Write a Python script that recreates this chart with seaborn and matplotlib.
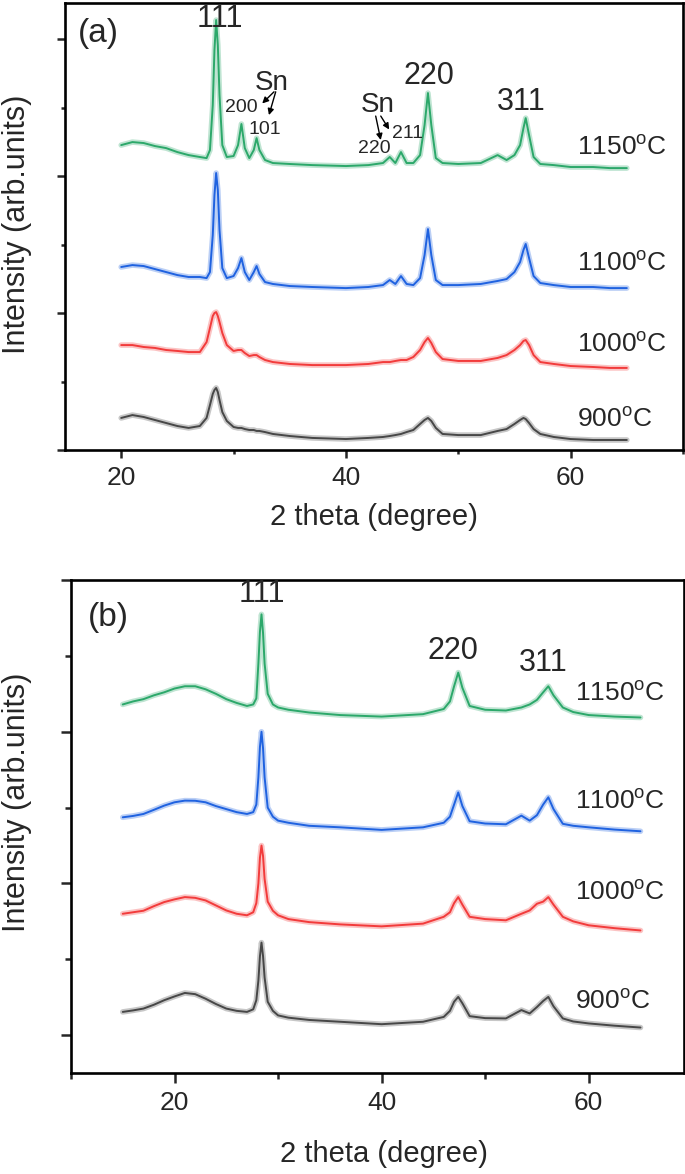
"""XRD patterns of the annealed samples, two stacked panels."""

import matplotlib

matplotlib.use("Agg")
import matplotlib.pyplot as plt
import pandas as pd
import seaborn as sns
from matplotlib.ticker import MultipleLocator

# ---------------- panel (a) ----------------
tth_a = [20, 21, 22, 23, 24, 25, 26, 27, 27.6, 27.9, 28.15, 28.3, 28.45, 28.6, 28.75,
         29.0, 29.4, 30.0, 30.4, 30.7, 31.0, 31.4, 31.8, 32.05, 32.3, 32.8, 33.5, 35,
         37, 40, 42, 43.3, 43.9, 44.4, 44.9, 45.4, 46.0, 46.6, 47.0, 47.3, 47.6, 48.0,
         48.6, 50, 52, 53.5, 54.3, 55.0, 55.5, 55.8, 56.0, 56.3, 56.7, 57.3, 58.5, 60,
         62, 63.5, 65]

a_1150 = [2.226, 2.248, 2.241, 2.219, 2.204, 2.175, 2.153, 2.139, 2.131, 2.190, 2.518,
          2.920, 3.139, 2.956, 2.591, 2.226, 2.139, 2.146, 2.226, 2.380, 2.204, 2.131,
          2.190, 2.277, 2.190, 2.117, 2.095, 2.088, 2.080, 2.073, 2.080, 2.095, 2.139,
          2.095, 2.175, 2.095, 2.095, 2.153, 2.372, 2.606, 2.372, 2.131, 2.095, 2.088,
          2.095, 2.153, 2.117, 2.153, 2.226, 2.350, 2.423, 2.299, 2.139, 2.088, 2.080,
          2.066, 2.066, 2.058, 2.058]
a_1100 = [1.336, 1.350, 1.343, 1.321, 1.299, 1.277, 1.263, 1.263, 1.255, 1.299, 1.569,
          1.861, 2.022, 1.898, 1.606, 1.328, 1.255, 1.270, 1.328, 1.401, 1.299, 1.241,
          1.299, 1.343, 1.285, 1.226, 1.212, 1.197, 1.190, 1.182, 1.190, 1.204, 1.241,
          1.212, 1.270, 1.212, 1.204, 1.255, 1.423, 1.613, 1.423, 1.241, 1.204, 1.204,
          1.212, 1.234, 1.248, 1.299, 1.372, 1.460, 1.504, 1.401, 1.270, 1.219, 1.204,
          1.190, 1.190, 1.182, 1.182]
a_1000 = [0.766, 0.766, 0.752, 0.745, 0.730, 0.723, 0.715, 0.715, 0.788, 0.891, 0.978,
          1.000, 1.007, 0.978, 0.934, 0.854, 0.766, 0.723, 0.730, 0.730, 0.708, 0.686,
          0.693, 0.693, 0.679, 0.657, 0.642, 0.628, 0.620, 0.620, 0.628, 0.642, 0.642,
          0.650, 0.657, 0.657, 0.679, 0.730, 0.788, 0.818, 0.781, 0.715, 0.664, 0.650,
          0.650, 0.672, 0.693, 0.730, 0.766, 0.796, 0.803, 0.766, 0.693, 0.642, 0.628,
          0.613, 0.606, 0.599, 0.599]
a_900 = [0.234, 0.255, 0.241, 0.219, 0.197, 0.175, 0.161, 0.175, 0.234, 0.328, 0.409,
         0.438, 0.453, 0.423, 0.365, 0.277, 0.212, 0.168, 0.161, 0.161, 0.153, 0.146,
         0.146, 0.139, 0.139, 0.131, 0.117, 0.102, 0.088, 0.080, 0.088, 0.095, 0.102,
         0.109, 0.117, 0.131, 0.146, 0.190, 0.219, 0.234, 0.212, 0.161, 0.117, 0.109,
         0.109, 0.139, 0.153, 0.190, 0.219, 0.234, 0.226, 0.197, 0.153, 0.117, 0.095,
         0.080, 0.073, 0.073, 0.073]

# ---------------- panel (b) ----------------
tth_b = [15, 16, 17, 18, 19, 20, 21, 22, 23, 24, 25, 26, 27, 27.6, 27.9, 28.1, 28.25,
         28.4, 28.55, 28.7, 29.0, 29.5, 30, 31, 33, 36, 40, 44, 46, 46.6, 47.0, 47.4,
         47.8, 48.5, 50, 52, 53.5, 54.3, 55.0, 55.6, 56.1, 56.6, 57.5, 58.5, 60, 62.5, 65]

b_1150 = [2.18, 2.20, 2.215, 2.24, 2.26, 2.285, 2.30, 2.30, 2.28, 2.25, 2.215, 2.19,
          2.17, 2.18, 2.22, 2.45, 2.66, 2.774, 2.65, 2.45, 2.25, 2.18, 2.16, 2.145,
          2.127, 2.11, 2.10, 2.116, 2.15, 2.20, 2.30, 2.39, 2.29, 2.17, 2.145, 2.14,
          2.16, 2.18, 2.21, 2.26, 2.30, 2.24, 2.16, 2.13, 2.11, 2.10, 2.094]
b_1100 = [1.436, 1.445, 1.458, 1.485, 1.513, 1.535, 1.546, 1.545, 1.535, 1.51, 1.49,
          1.47, 1.458, 1.47, 1.52, 1.70, 1.90, 2.0, 1.89, 1.70, 1.50, 1.44, 1.414, 1.40,
          1.38, 1.37, 1.353, 1.37, 1.40, 1.44, 1.52, 1.60, 1.51, 1.41, 1.395, 1.39,
          1.447, 1.414, 1.45, 1.52, 1.568, 1.49, 1.393, 1.38, 1.37, 1.355, 1.344]
b_1000 = [0.80, 0.81, 0.82, 0.85, 0.877, 0.895, 0.91, 0.905, 0.888, 0.855, 0.822, 0.80,
          0.79, 0.81, 0.87, 1.0, 1.17, 1.25, 1.18, 1.03, 0.88, 0.82, 0.79, 0.765, 0.745,
          0.73, 0.717, 0.735, 0.78, 0.81, 0.87, 0.91, 0.86, 0.78, 0.765, 0.757, 0.80,
          0.822, 0.866, 0.88, 0.91, 0.86, 0.78, 0.75, 0.724, 0.705, 0.69]
b_900 = [0.153, 0.163, 0.175, 0.20, 0.23, 0.255, 0.278, 0.27, 0.24, 0.205, 0.175, 0.16,
         0.153, 0.17, 0.23, 0.36, 0.52, 0.61, 0.52, 0.38, 0.22, 0.16, 0.13, 0.115, 0.10,
         0.088, 0.072, 0.088, 0.12, 0.16, 0.22, 0.252, 0.21, 0.125, 0.112, 0.11, 0.165,
         0.143, 0.185, 0.225, 0.252, 0.19, 0.11, 0.09, 0.077, 0.062, 0.05]

temps = ["900", "1000", "1100", "1150"]
colors = {"900": "#474747", "1000": "#f23b3b", "1100": "#1f62e0", "1150": "#2ca86a"}


def to_long(tth, series):
    """Stack the per-temperature arrays into one long table."""
    frames = [pd.DataFrame({"two_theta": tth, "intensity": vals, "temp": t})
              for t, vals in zip(temps, series)]
    return pd.concat(frames, ignore_index=True)


def deg(t):
    return f"{t}$^{{\\mathrm{{o}}}}$C"


def style_axes(ax, xlim, ylim, major_len, minor_len):
    ax.set_xlim(*xlim)
    ax.set_ylim(*ylim)
    ax.xaxis.set_major_locator(MultipleLocator(20))
    ax.xaxis.set_minor_locator(MultipleLocator(10))
    ax.yaxis.set_major_locator(MultipleLocator(1))
    ax.yaxis.set_minor_locator(MultipleLocator(0.5))
    ax.tick_params(which="both", direction="out", width=1.8, labelsize=19,
                   labelleft=False, top=False, right=False)
    ax.tick_params(which="major", length=major_len, pad=6)
    ax.tick_params(which="minor", length=minor_len)
    for side in ax.spines.values():
        side.set_visible(True)
        side.set_linewidth(1.9)
        side.set_color("black")
    ax.set_xlabel("")
    ax.set_ylabel("")
    ax.grid(False)


sns.set_style("ticks")
plt.rcParams["font.family"] = ["Liberation Sans", "DejaVu Sans"]
plt.rcParams["mathtext.fontset"] = "custom"
plt.rcParams["mathtext.rm"] = "Liberation Sans"

fig = plt.figure(figsize=(6.85, 11.74), dpi=100)
ax_a = fig.add_axes([0.0949, 0.6167, 0.9022, 0.3807])
ax_b = fig.add_axes([0.1036, 0.0860, 0.8949, 0.4199])

df_a = to_long(tth_a, [a_900, a_1000, a_1100, a_1150])
df_b = to_long(tth_b, [b_900, b_1000, b_1100, b_1150])

for ax, df in [(ax_a, df_a), (ax_b, df_b)]:
    # soft wide stroke under a thin one, to mimic the noisy trace band
    sns.lineplot(data=df, x="two_theta", y="intensity", hue="temp", palette=colors,
                 estimator=None, sort=False, legend=False, linewidth=4.0, alpha=0.3,
                 ax=ax)
    sns.lineplot(data=df, x="two_theta", y="intensity", hue="temp", palette=colors,
                 estimator=None, sort=False, legend=False, linewidth=1.4, ax=ax)

style_axes(ax_a, (15, 70), (0, 3.263), 5.5, 3)
style_axes(ax_b, (10, 69.2), (-0.25, 3.0), 7, 4)

# ---- annotations, panel (a) ----
ax_a.text(18.0, 3.04, "(a)", fontsize=24, ha="center", va="center")
ax_a.text(28.8, 3.15, "111", fontsize=22, ha="center", va="center")
ax_a.text(47.4, 2.73, "220", fontsize=22, ha="center", va="center")
ax_a.text(55.6, 2.54, "311", fontsize=22, ha="center", va="center")
ax_a.text(33.4, 2.68, "Sn", fontsize=20, ha="center", va="center")
ax_a.text(30.65, 2.50, "200", fontsize=14, ha="center", va="center")
ax_a.text(32.75, 2.34, "101", fontsize=14, ha="center", va="center")
ax_a.text(42.8, 2.52, "Sn", fontsize=20, ha="center", va="center")
ax_a.text(42.5, 2.20, "220", fontsize=14, ha="center", va="center")
ax_a.text(45.45, 2.31, "211", fontsize=14, ha="center", va="center")
arrow = dict(arrowstyle="-|>", color="black", lw=1.0, mutation_scale=9,
             shrinkA=0, shrinkB=0)
for start, end in [((33.6, 2.615), (32.55, 2.53)), ((33.75, 2.615), (33.15, 2.445)),
                   ((42.65, 2.438), (43.1, 2.263)), ((43.1, 2.438), (43.85, 2.34))]:
    ax_a.annotate("", xy=end, xytext=start, arrowprops=arrow)
for t, y in zip(temps, [0.22, 0.77, 1.36, 2.21]):
    ax_a.text(60.6, y, deg(t), fontsize=19, ha="left", va="center")
ax_a.text(0.5, -0.15, "2 theta (degree)", fontsize=21, ha="center", va="center",
          transform=ax_a.transAxes)
ax_a.text(-0.078, 0.506, "Intensity (arb.units)", fontsize=22, rotation=90,
          ha="center", va="center", transform=ax_a.transAxes)

# ---- annotations, panel (b) ----
ax_b.text(13.6, 2.75, "(b)", fontsize=24, ha="center", va="center")
ax_b.text(28.4, 2.91, "111", fontsize=22, ha="center", va="center")
ax_b.text(46.9, 2.53, "220", fontsize=22, ha="center", va="center")
ax_b.text(55.6, 2.45, "311", fontsize=22, ha="center", va="center")
for t, y in zip(temps, [0.22, 0.94, 1.54, 2.25]):
    ax_b.text(58.7, y, deg(t), fontsize=19, ha="left", va="center")
ax_b.text(0.51, -0.164, "2 theta (degree)", fontsize=21, ha="center", va="center",
          transform=ax_b.transAxes)
ax_b.text(-0.088, 0.55, "Intensity (arb.units)", fontsize=22, rotation=90,
          ha="center", va="center", transform=ax_b.transAxes)

fig.savefig("out.png", dpi=100)
